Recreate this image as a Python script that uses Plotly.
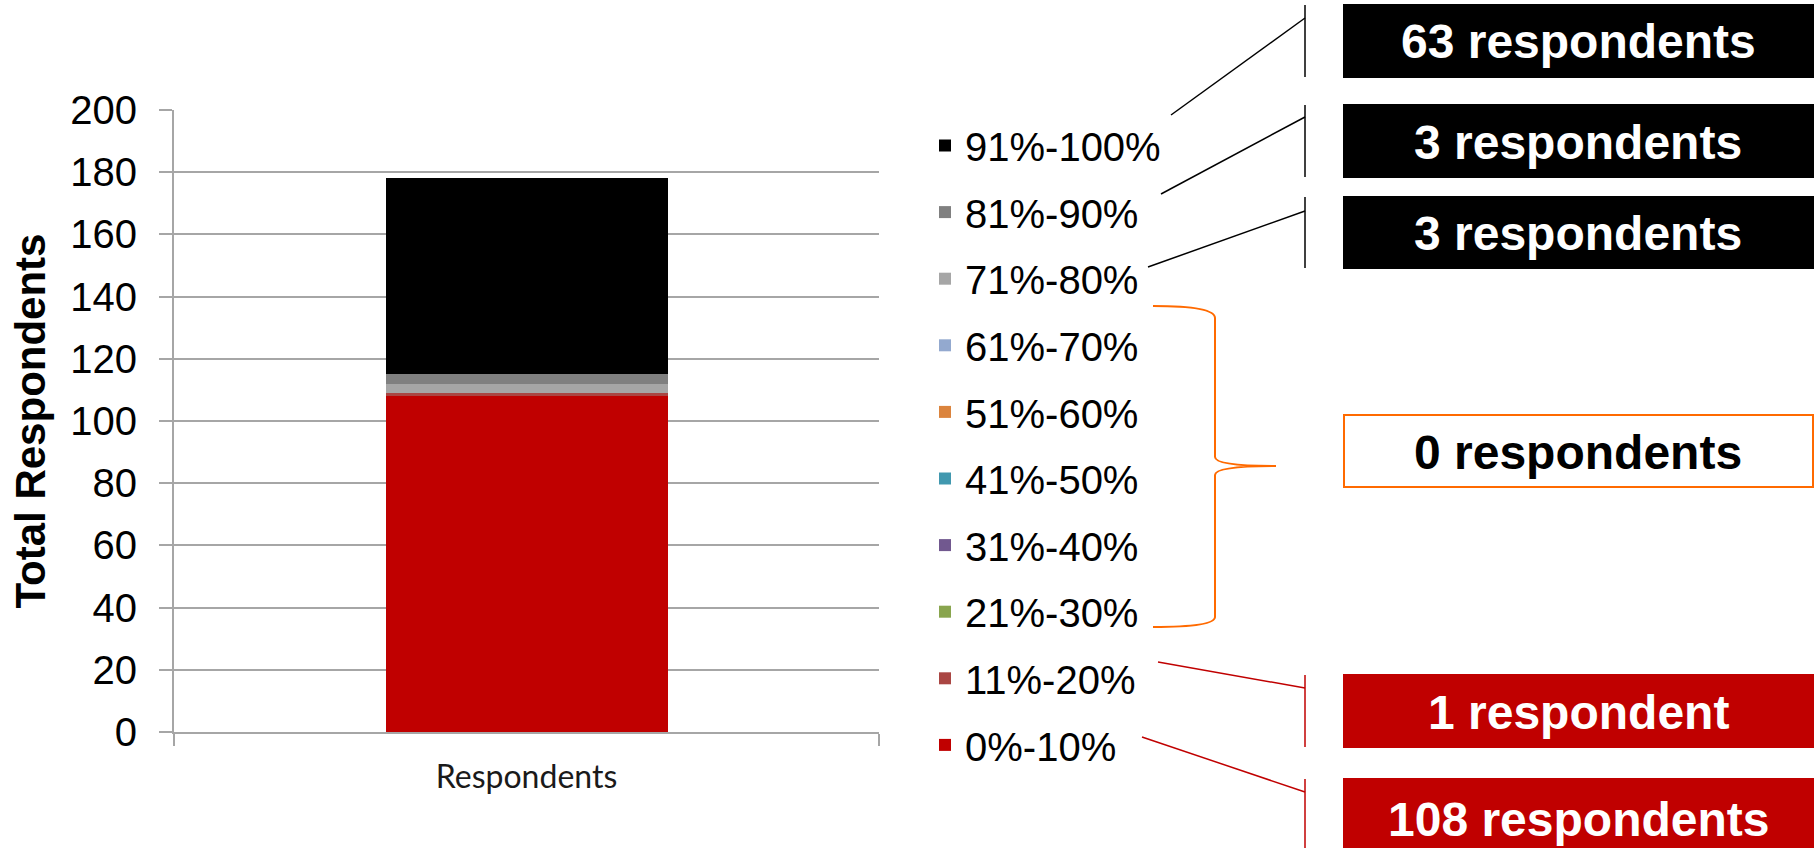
import plotly.graph_objects as go

# Score bands (bottom of the stack first) and how many respondents fell into each
bands = ["0%-10%", "11%-20%", "21%-30%", "31%-40%", "41%-50%",
         "51%-60%", "61%-70%", "71%-80%", "81%-90%", "91%-100%"]
counts = [108, 1, 0, 0, 0, 0, 0, 3, 3, 63]
band_colors = ["#C00000", "#AA4643", "#89A54E", "#71588F", "#4198AF",
               "#DB843D", "#93A9CF", "#A6A6A6", "#808080", "#000000"]
category = ["Respondents"]
y_tick_values = [0, 20, 40, 60, 80, 100, 120, 140, 160, 180, 200]

# Page geometry (pixels) of the plotting area
W, H = 1814, 848
PLOT_L, PLOT_R, PLOT_T, PLOT_B = 174, 879, 110, 732


def px(x):
    return (x - PLOT_L) / (PLOT_R - PLOT_L)


def py(y):
    return (PLOT_B - y) / (PLOT_B - PLOT_T)


ARIAL = "Liberation Sans, Arial, sans-serif"
GRID = "#A6A6A6"
ORANGE = "#FF6A00"
RED = "#C00000"

fig = go.Figure()
for i, (name, val, col) in enumerate(zip(bands, counts, band_colors)):
    fig.add_trace(go.Bar(
        x=category, y=[val], name=name, legendgroup=name,
        legendrank=len(bands) - i,  # highest band listed first
        marker=dict(color=col, line=dict(width=0)), width=0.4,
    ))

# Call-out boxes: which bands they summarise, box extent and styling
callouts = [
    dict(idx=[9], y0=5, y1=77, fill="#000000", border="#000000", font="white",
         bar_line=(5, 77), link=((1171, 115), (1305, 18)), link_color="#000000"),
    dict(idx=[8], y0=105, y1=177, fill="#000000", border="#000000", font="white",
         bar_line=(105, 177), link=((1161, 194), (1305, 117)), link_color="#000000"),
    dict(idx=[7], y0=197, y1=268, fill="#000000", border="#000000", font="white",
         bar_line=(197, 268), link=((1148, 267), (1305, 211)), link_color="#000000"),
    dict(idx=[2, 3, 4, 5, 6], y0=415, y1=487, fill="white", border=ORANGE, font="black",
         bar_line=None, link=None, link_color=ORANGE),
    dict(idx=[1], y0=675, y1=747, fill=RED, border=RED, font="white",
         bar_line=(675, 747), link=((1158, 662), (1305, 688)), link_color=RED),
    dict(idx=[0], y0=779, y1=858, fill=RED, border=RED, font="white",
         bar_line=(779, 848), link=((1142, 737), (1305, 792)), link_color=RED),
]

BOX_L, BOX_R, LINE_X = 1344, 1813, 1305
shapes = []
annotations = []
for c in callouts:
    total = sum(counts[i] for i in c["idx"])
    label = f"{total} respondent" + ("" if total == 1 else "s")
    shapes.append(dict(type="rect", xref="paper", yref="paper",
                       x0=px(BOX_L), x1=px(BOX_R), y0=py(c["y1"]), y1=py(c["y0"]),
                       fillcolor=c["fill"],
                       line=dict(color=c["border"], width=2), layer="above"))
    yc = (c["y0"] + min(c["y1"], 858)) / 2
    annotations.append(dict(xref="paper", yref="paper", x=px(1578), y=py(yc + 1),
                            xanchor="center", yanchor="middle", showarrow=False,
                            text=f"<b>{label}</b>",
                            font=dict(family=ARIAL, size=48, color=c["font"])))
    if c["bar_line"]:
        shapes.append(dict(type="line", xref="paper", yref="paper",
                           x0=px(LINE_X), x1=px(LINE_X),
                           y0=py(c["bar_line"][0]), y1=py(c["bar_line"][1]),
                           line=dict(color=c["link_color"], width=1.5)))
    if c["link"]:
        (ax, ay), (bx, by) = c["link"]
        shapes.append(dict(type="line", xref="paper", yref="paper",
                           x0=px(ax), y0=py(ay), x1=px(bx), y1=py(by),
                           line=dict(color=c["link_color"], width=1.5)))

# Curly brace grouping the empty bands
brace_pts = [
    ("M", [(1153, 306)]),
    ("Q", [(1215, 306), (1215, 318)]),
    ("L", [(1215, 457)]),
    ("Q", [(1215, 466), (1276, 466)]),
    ("Q", [(1215, 466), (1215, 475)]),
    ("L", [(1215, 617)]),
    ("Q", [(1215, 627), (1153, 627)]),
]
path = " ".join(cmd + " " + " ".join(f"{px(x):.5f},{py(y):.5f}" for x, y in pts)
                for cmd, pts in brace_pts)
shapes.append(dict(type="path", xref="paper", yref="paper", path=path,
                   line=dict(color=ORANGE, width=2)))

fig.update_layout(
    width=W, height=H,
    margin=dict(l=PLOT_L, r=W - PLOT_R, t=PLOT_T, b=H - PLOT_B, pad=0,
                autoexpand=False),
    barmode="stack",
    plot_bgcolor="white", paper_bgcolor="white",
    font=dict(family=ARIAL, color="black"),
    showlegend=True,
    legend=dict(x=px(925), xanchor="left",
                y=py(113), yanchor="top",
                maxheight=760,
                traceorder="grouped", tracegroupgap=11.6,
                font=dict(family=ARIAL, size=40, color="black"),
                bgcolor="rgba(0,0,0,0)"),
    xaxis=dict(type="category", range=[-0.5, 0.5],
               showline=True, linecolor=GRID, linewidth=2,
               ticks="outside", tickson="boundaries", ticklen=12,
               tickcolor=GRID, tickwidth=2, showgrid=False,
               ticklabelstandoff=16,
               tickfont=dict(family="Lato, Open Sans, sans-serif", size=32, color="#1a1a1a")),
    yaxis=dict(range=[0, 200], tickvals=y_tick_values,
               showline=True, linecolor=GRID, linewidth=2,
               showgrid=True, gridcolor=GRID, gridwidth=2, zeroline=False,
               ticks="outside", ticklen=13, tickcolor=GRID, tickwidth=2,
               ticklabelstandoff=14,
               tickfont=dict(family=ARIAL, size=40, color="black"),
               title=dict(text="<b>Total Respondents</b>", standoff=12,
                          font=dict(family=ARIAL, size=42, color="black"))),
    shapes=shapes,
    annotations=annotations,
)

fig.write_html("out.html")
